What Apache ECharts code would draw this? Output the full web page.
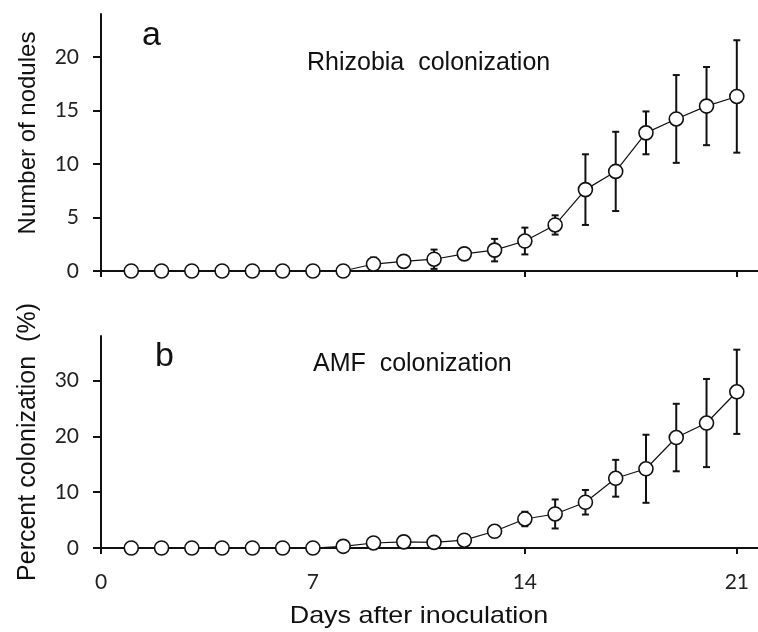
<!DOCTYPE html>
<html>
<head>
<meta charset="utf-8">
<script src="https://cdn.jsdelivr.net/npm/echarts@6/dist/echarts.min.js"></script>
<style>html,body{margin:0;padding:0;background:#fff}#c{width:758px;height:632px}</style>
</head>
<body>
<div id="c"></div>
<script>
var days = [1,2,3,4,5,6,7,8,9,10,11,12,13,14,15,16,17,18,19,20,21];
var noduleMean = [0,0,0,0,0,0,0,0,0.65,0.9,1.1,1.6,1.95,2.8,4.3,7.6,9.3,12.9,14.2,15.4,16.3];
var noduleErr  = [0,0,0,0,0,0,0,0,0.6,0.5,0.9,0.4,1.05,1.25,0.9,3.3,3.7,2.0,4.1,3.65,5.25];
var amfMean = [0,0,0,0,0,0,0,0.3,0.9,1.1,1.0,1.4,3.0,5.2,6.1,8.2,12.5,14.2,19.8,22.4,28.0];
var amfErr  = [0,0,0,0,0,0,0,0,0,0,0,0,0,1.3,2.6,2.2,3.3,6.1,6.05,7.9,7.55];
var xTicks = [0,7,14,21];
var noduleTicks = [0,5,10,15,20];
var amfTicks = [0,10,20,30];

var ink = '#111';
var tickFont = 'Lato, "Open Sans", sans-serif';
var textFont = '"Liberation Sans", Arial, sans-serif';

function pairs(m){ return days.map(function(d,i){return [d, m[i]];}); }
function errData(m,e){ return days.map(function(d,i){return [d, m[i]-e[i], m[i]+e[i]];}).filter(function(r){return r[2]>r[1];}); }

function errRender(params, api){
  var x = api.value(0), lo = api.value(1), hi = api.value(2);
  var p1 = api.coord([x, hi]), p2 = api.coord([x, lo]);
  var w = 3.5;
  var st = {stroke: ink, lineWidth: 2};
  return {type:'group', children:[
    {type:'line', shape:{x1:p1[0],y1:p1[1],x2:p2[0],y2:p2[1]}, style:st},
    {type:'line', shape:{x1:p1[0]-w,y1:p1[1],x2:p1[0]+w,y2:p1[1]}, style:st},
    {type:'line', shape:{x1:p2[0]-w,y1:p2[1],x2:p2[0]+w,y2:p2[1]}, style:st}
  ]};
}

function xAxis(idx, showLabels){
  return {
    type:'value', gridIndex: idx, min:0, max:21.7, interval:7,
    axisLine:{show:true, onZero:false, lineStyle:{color:ink, width:2}},
    axisTick:{show:true, inside:false, length:6, customValues:xTicks, lineStyle:{color:ink, width:2}},
    axisLabel:{show:showLabels, customValues:xTicks, color:'#222', fontFamily:tickFont, fontSize:21, margin:24},
    splitLine:{show:false}
  };
}
function yAxis(idx, max, ticks){
  return {
    type:'value', gridIndex: idx, min:0, max:max,
    axisLine:{show:true, lineStyle:{color:ink, width:2}},
    axisTick:{show:true, inside:false, length:8, customValues:ticks, lineStyle:{color:ink, width:2}},
    axisLabel:{customValues:ticks, color:'#222', fontFamily:tickFont, fontSize:21, margin:22},
    splitLine:{show:false}
  };
}
function lineSeries(idx, m){
  return {
    type:'line', xAxisIndex:idx, yAxisIndex:idx, data:pairs(m), z:5,
    symbol:'circle', symbolSize:14, showAllSymbol:true,
    itemStyle:{color:'#fff', borderColor:ink, borderWidth:1.6},
    lineStyle:{color:ink, width:1.2}, animation:false
  };
}
function errSeries(idx, m, e){
  return {type:'custom', xAxisIndex:idx, yAxisIndex:idx, data:errData(m,e), renderItem:errRender, z:3, animation:false, encode:{x:0, y:[1,2]}};
}

var chart = echarts.init(document.getElementById('c'), null, {renderer:'canvas'});
chart.setOption({
  animation:false,
  backgroundColor:'#fff',
  grid:[
    {left:101, top:14, width:657, height:257},
    {left:101, top:336, width:657, height:212}
  ],
  xAxis:[xAxis(0,false), xAxis(1,true)],
  yAxis:[yAxis(0,24,noduleTicks), yAxis(1,38,amfTicks)],
  series:[
    errSeries(0, noduleMean, noduleErr), lineSeries(0, noduleMean),
    errSeries(1, amfMean, amfErr), lineSeries(1, amfMean)
  ],
  graphic:[
    {type:'text', x:142, y:36, style:{text:'a', font:'34px '+textFont, fill:'#111', verticalAlign:'middle'}},
    {type:'text', x:307, y:63, style:{text:'Rhizobia  colonization', font:'25px '+textFont, fill:'#111', verticalAlign:'middle'}},
    {type:'text', x:155, y:357, style:{text:'b', font:'34px '+textFont, fill:'#111', verticalAlign:'middle'}},
    {type:'text', x:313, y:364, style:{text:'AMF  colonization', font:'25px '+textFont, fill:'#111', verticalAlign:'middle'}},
    {type:'text', x:419, y:616, scaleX:1.12, style:{text:'Days after inoculation', font:'24px '+textFont, fill:'#111', align:'center', verticalAlign:'middle'}},
    {type:'text', x:28, y:133, rotation:Math.PI/2, style:{text:'Number of nodules', font:'24px '+textFont, fill:'#111', align:'center', verticalAlign:'middle'}},
    {type:'text', x:28, y:442, rotation:Math.PI/2, style:{text:'Percent colonization  (%)', font:'25px '+textFont, fill:'#111', align:'center', verticalAlign:'middle'}}
  ]
});
</script>
</body>
</html>
